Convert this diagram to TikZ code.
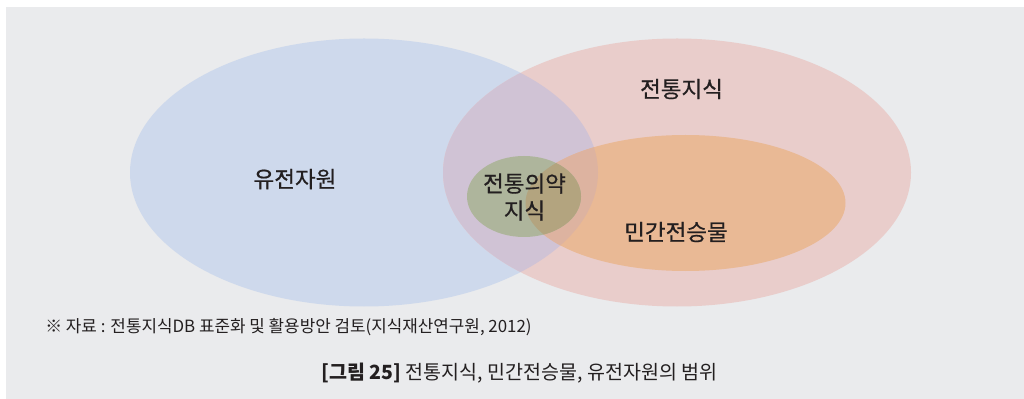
\documentclass[tikz,border=0pt]{standalone}
\usepackage{fontspec}
\setmainfont{Noto Sans CJK KR}
\newfontfamily\medfont[RawFeature={embolden=0.6}]{Noto Sans CJK KR}
\usetikzlibrary{positioning}

\definecolor{bgGray}{HTML}{EAEBED}
\definecolor{genBlue}{HTML}{CED9EC}
\definecolor{tkPink}{HTML}{E9CDCB}
\definecolor{genTk}{HTML}{D0C3D5}
\definecolor{folkOrange}{HTML}{E9B995}
\definecolor{genFolk}{HTML}{DDB3A0}
\definecolor{medGreen}{HTML}{AEB59C}
\definecolor{medFolk}{HTML}{B3A47F}
\definecolor{txtDark}{HTML}{231F20}

\begin{document}
\begin{tikzpicture}[
    x=0.025cm, y=-0.025cm,
    lbl/.style={font=\medfont\fontsize{16}{19.2}\selectfont, text=txtDark,
                inner sep=0pt},
    note/.style={font=\fontsize{12}{14}\selectfont, text=txtDark,
                 inner sep=0pt},
    capt/.style={font=\fontsize{13.9}{16}\selectfont, text=txtDark,
                 inner sep=0pt}
  ]
  \useasboundingbox (0,0) rectangle (1024,399);
  \fill[bgGray] (6,7) rectangle (1024,399);

  % 유전자원 / 전통지식
  \fill[genBlue] (364,172.5) ellipse [x radius=234, y radius=134];
  \fill[tkPink] (677,172.5) ellipse [x radius=234, y radius=134];
  \begin{scope}
    \clip (364,172.5) ellipse [x radius=234, y radius=134];
    \fill[genTk] (677,172.5) ellipse [x radius=234, y radius=134];
  \end{scope}

  % 민간전승물
  \fill[folkOrange] (685.5,203) ellipse [x radius=160, y radius=68];
  \begin{scope}
    \clip (364,172.5) ellipse [x radius=234, y radius=134];
    \fill[genFolk] (685.5,203) ellipse [x radius=160, y radius=68];
  \end{scope}

  % 전통의약지식
  \fill[medGreen] (524,196.5) ellipse [x radius=57, y radius=40.5];
  \begin{scope}
    \clip (685.5,203) ellipse [x radius=160, y radius=68];
    \fill[medFolk] (524,196.5) ellipse [x radius=57, y radius=40.5];
  \end{scope}

  \node[lbl] (gen) at (295,179) {유전자원};
  \node[lbl] (tk) at (681.5,89) {전통지식};
  \node[lbl, align=center] (med) at (524.5,197) {전통의약\\지식};
  \node[lbl] (folk) at (676,232) {민간전승물};

  \node[note, anchor=west] (src) at (45,327)
    {※ 자료 : 전통지식DB 표준화 및 활용방안 검토(지식재산연구원, 2012)};
  \node[capt] (cap) at (519.5,373)
    {\textbf{[그림 25]} 전통지식, 민간전승물, 유전자원의 범위};
\end{tikzpicture}
\end{document}
